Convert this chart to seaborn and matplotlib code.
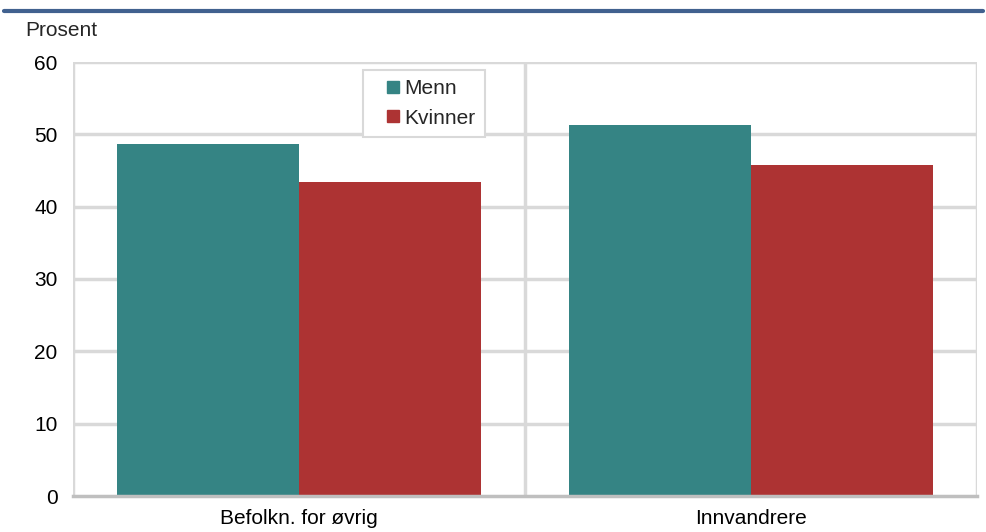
import numpy as np
import pandas as pd
import matplotlib.pyplot as plt
import seaborn as sns
from matplotlib.lines import Line2D

# data
grupper = ["Befolkn. for øvrig", "Innvandrere"]
kjonn = ["Menn", "Kvinner"]
menn = [48.7, 51.3]
kvinner = [43.4, 45.8]

farger = {"Menn": "#358484", "Kvinner": "#AD3333"}

df = pd.DataFrame({
    "gruppe": grupper * 2,
    "kjonn": ["Menn"] * 2 + ["Kvinner"] * 2,
    "prosent": menn + kvinner,
})

sns.set_style("white")
plt.rcParams["font.family"] = ["Liberation Sans", "DejaVu Sans"]

fig = plt.figure(figsize=(9.86, 5.32), dpi=100)
ax = fig.add_axes([73 / 986, 1 - 496 / 532, 904 / 986, 434 / 532])

sns.barplot(data=df, x="gruppe", y="prosent", hue="kjonn", hue_order=kjonn,
            palette=farger, width=0.805, saturation=1, linewidth=0,
            ax=ax, zorder=3, legend=False)

ax.set_ylim(0, 60)
ax.set_xlim(-0.5, 1.5)
ax.set_yticks(range(0, 61, 10))
ax.set_xlabel("")
ax.set_ylabel("")

# grid
grid_c = "#d9d9d9"
for y in range(10, 61, 10):
    ax.axhline(y, color=grid_c, lw=2.5, zorder=1)
for x in [-0.5, 0.5, 1.5]:
    ax.axvline(x, color=grid_c, lw=2.5, zorder=1)
for s in ["top", "right", "left"]:
    ax.spines[s].set_visible(False)
ax.spines["bottom"].set_color("#bfbfbf")
ax.spines["bottom"].set_linewidth(2.5)
ax.spines["bottom"].set_zorder(4)

ax.tick_params(axis="both", length=0, labelsize=15, colors="black")
ax.tick_params(axis="x", pad=9)
ax.tick_params(axis="y", pad=11)

# legend: square markers with some room on the left, like the original
handles = [Line2D([], [], marker="s", ls="none", ms=9, color=farger[k]) for k in kjonn]
leg = ax.legend(handles, kjonn, loc="upper center", bbox_to_anchor=(0.388, 0.982),
                fontsize=15, frameon=True, fancybox=False, edgecolor="#d9d9d9",
                handlelength=2.0, handletextpad=-0.48, borderpad=0.45,
                labelspacing=0.5, borderaxespad=0)
leg.get_frame().set_linewidth(1.5)
leg.get_frame().set_alpha(1)

fig.text(25 / 986, 1 - 31 / 532, "Prosent", fontsize=15, va="center", ha="left")

# blue rule under the (cut off) title
fig.add_artist(Line2D([4 / 986, 983 / 986], [1 - 11 / 532, 1 - 11 / 532],
                      color="#41618F", lw=3))

fig.savefig("out.png", dpi=100)
